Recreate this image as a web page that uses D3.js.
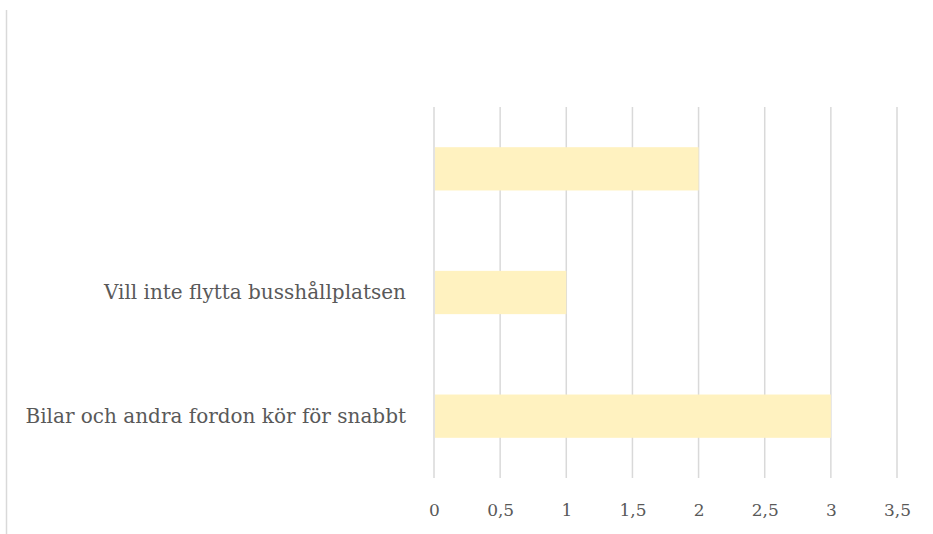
<!DOCTYPE html>
<html lang="sv">
<head>
<meta charset="utf-8">
<script src="https://cdn.jsdelivr.net/npm/d3@7"></script>
<style>
  body { margin: 0; background: #fff; }
  text { font-family: "DejaVu Serif", serif; fill: #595959; }
</style>
</head>
<body>
<svg width="933" height="534"></svg>
<script>
// kategorier uppifrån och ned
var categories = ["", "Vill inte flytta busshållplatsen", "Bilar och andra fordon kör för snabbt"];
var values = [2, 1, 3];
var ticks = [0, 0.5, 1, 1.5, 2, 2.5, 3, 3.5];

var svg = d3.select("svg");
var margin = {top: 107, left: 434, right: 36, bottom: 56};
var width = 933, height = 534;

// ramlinje till vänster
svg.append("line")
  .attr("x1", 6.5).attr("x2", 6.5)
  .attr("y1", 10).attr("y2", height)
  .attr("stroke", "#d9d9d9").attr("stroke-width", 1.5);

var x = d3.scaleLinear()
  .domain([0, 3.5])
  .range([margin.left, margin.left + 463]);

var y = d3.scaleBand()
  .domain(categories)
  .range([margin.top, height - margin.bottom])
  .paddingInner(0.65)
  .paddingOuter(0.325);

// rutnät
svg.append("g")
  .selectAll("line")
  .data(ticks)
  .enter()
  .append("line")
  .attr("x1", function(d){ return x(d); })
  .attr("x2", function(d){ return x(d); })
  .attr("y1", margin.top)
  .attr("y2", height - margin.bottom)
  .attr("stroke", "#d9d9d9")
  .attr("stroke-width", 1.5);

// staplar
svg.append("g")
  .selectAll("rect")
  .data(values)
  .enter()
  .append("rect")
  .attr("x", x(0) + 1)
  .attr("y", function(d, i){ return y(categories[i]); })
  .attr("width", function(d){ return x(d) - x(0) - 1; })
  .attr("height", y.bandwidth())
  .attr("fill", "#fff2c0");

// x-axel
var fmt = function(d){ return String(d).replace(".", ","); };
var xAxis = svg.append("g")
  .attr("transform", "translate(0," + (height - margin.bottom) + ")")
  .call(d3.axisBottom(x).tickValues(ticks).tickFormat(fmt).tickSize(0).tickPadding(26));
xAxis.select(".domain").remove();
xAxis.selectAll("text")
  .attr("fill", "#595959")
  .style("font-size", "17px");

// y-axel
var yAxis = svg.append("g")
  .attr("transform", "translate(" + margin.left + ",0)")
  .call(d3.axisLeft(y).tickSize(0).tickPadding(28));
yAxis.select(".domain").remove();
yAxis.selectAll("text")
  .attr("fill", "#595959")
  .style("font-size", "20px");
</script>
</body>
</html>
